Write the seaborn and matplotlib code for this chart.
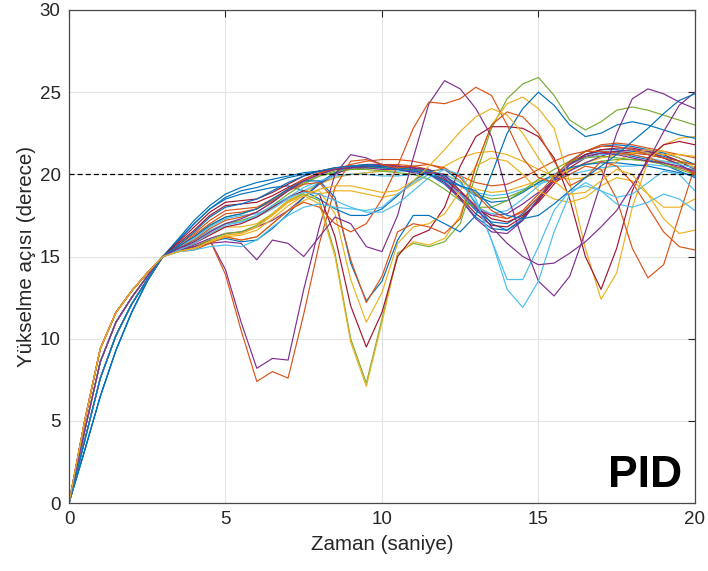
import numpy as np
import pandas as pd
import matplotlib
matplotlib.use("Agg")
import matplotlib.pyplot as plt
import seaborn as sns

# Sample times (s)
time_s = np.arange(0, 20.5, 0.5)

# Initial climb 0-3 s (shared by all runs, four speeds)
rise_fast = [0, 5.0, 9.4, 11.6, 12.9, 14.0, 15.0]
rise_b = [0, 4.4, 8.6, 11.0, 12.5, 13.8, 15.0]
rise_c = [0, 3.8, 7.6, 10.2, 12.1, 13.6, 15.0]
rise_slow = [0, 3.2, 6.5, 9.3, 11.6, 13.5, 15.0]

# Elevation angle (deg) for 3.5-20 s, one list per run
w01 = [16.1, 17.2, 18.1, 18.8, 19.2, 19.5, 19.7, 19.9, 20.1, 20.2,
       20.3, 20.4, 20.4, 20.4, 20.4, 20.3, 20.1, 19.6, 18.8, 17.8,
       17.1, 17.0, 17.6, 18.6, 19.7, 20.6, 21.2, 21.5, 21.5, 21.4,
       21.3, 21.1, 20.8, 20.3]
w02 = [16.0, 17.0, 17.9, 18.6, 19.0, 19.2, 19.5, 19.8, 20.0, 20.2,
       20.3, 20.4, 20.5, 20.5, 20.4, 20.3, 20.0, 19.4, 18.5, 17.4,
       16.7, 16.6, 17.3, 18.5, 19.8, 20.8, 21.4, 21.7, 21.8, 21.7,
       21.5, 21.3, 21.0, 20.6]
w03 = [15.9, 16.8, 17.7, 18.3, 18.4, 18.5, 18.9, 19.4, 19.9, 20.2,
       20.4, 20.5, 20.5, 20.5, 20.5, 20.4, 20.2, 19.6, 18.6, 17.6,
       16.9, 16.8, 17.4, 18.4, 19.6, 20.6, 21.2, 21.5, 21.6, 21.6,
       21.4, 21.2, 20.8, 20.3]
w04 = [15.8, 16.6, 17.5, 18.1, 18.2, 18.3, 18.7, 19.2, 19.7, 20.1,
       20.3, 20.4, 20.5, 20.5, 20.5, 20.4, 20.2, 19.7, 18.9, 18.0,
       17.3, 17.1, 17.5, 18.3, 19.4, 20.4, 21.0, 21.3, 21.4, 21.3,
       21.2, 21.0, 20.6, 20.0]
w05 = [15.7, 16.4, 17.2, 17.8, 17.9, 18.0, 18.5, 19.1, 19.7, 20.1,
       20.3, 20.5, 20.6, 20.6, 20.6, 20.5, 20.3, 19.8, 19.0, 18.1,
       17.5, 17.3, 17.7, 18.6, 19.7, 20.7, 21.4, 21.8, 21.9, 21.8,
       21.6, 21.4, 21.2, 21.0]
w06 = [15.6, 16.2, 16.9, 17.4, 17.6, 17.9, 18.4, 19.0, 19.5, 19.9,
       20.1, 20.3, 20.4, 20.4, 20.4, 20.3, 20.2, 19.8, 19.3, 18.8,
       18.5, 18.6, 19.0, 19.5, 19.9, 20.3, 20.6, 20.8, 20.9, 20.9,
       20.8, 20.8, 20.7, 20.6]
w07 = [15.5, 16.0, 16.6, 17.0, 17.1, 17.4, 17.9, 18.5, 19.0, 19.5,
       19.8, 20.0, 20.1, 20.2, 20.2, 20.2, 20.1, 19.8, 19.3, 18.9,
       18.7, 18.8, 19.1, 19.4, 19.7, 20.0, 20.2, 20.4, 20.5, 20.5,
       20.6, 20.5, 20.4, 20.3]
w08 = [15.4, 15.8, 16.4, 16.8, 16.8, 17.0, 17.6, 18.3, 18.9, 19.4,
       19.8, 20.0, 20.1, 20.2, 20.3, 20.3, 20.2, 20.0, 19.6, 19.1,
       18.9, 19.0, 19.3, 19.6, 19.9, 20.3, 20.7, 21.0, 21.2, 21.3,
       21.3, 21.2, 21.2, 21.1]
w09 = [15.4, 15.7, 16.1, 16.4, 16.5, 16.8, 17.2, 17.8, 18.6, 19.4,
       20.0, 20.4, 20.6, 20.6, 20.5, 20.4, 20.3, 19.8, 18.8, 17.9,
       17.5, 17.6, 18.2, 18.9, 19.6, 20.2, 20.7, 21.1, 21.4, 21.5,
       21.4, 21.0, 20.6, 20.1]
w10 = [15.3, 15.6, 15.9, 16.1, 15.9, 16.0, 16.7, 17.6, 18.6, 19.5,
       20.1, 20.5, 20.6, 20.5, 20.4, 20.3, 20.2, 19.9, 19.3, 18.7,
       18.3, 18.4, 18.9, 19.5, 20.0, 20.4, 20.6, 20.7, 20.7, 20.6,
       20.5, 20.3, 20.1, 19.9]
w11 = [15.5, 16.1, 16.8, 17.3, 17.5, 17.6, 18.0, 18.6, 19.2, 19.6,
       19.9, 20.0, 20.0, 19.9, 19.9, 20.0, 20.0, 19.6, 18.8, 18.0,
       17.6, 17.8, 18.5, 19.3, 20.0, 20.6, 21.0, 21.2, 21.3, 21.2,
       21.0, 20.8, 20.6, 20.4]
w12 = [15.3, 15.5, 15.9, 16.2, 16.0, 16.2, 17.0, 17.8, 18.4, 18.8,
       19.0, 19.0, 18.8, 18.6, 18.8, 19.4, 20.0, 20.5, 21.0, 21.3,
       21.4, 21.2, 20.8, 20.3, 19.9, 19.7, 19.8, 20.2, 20.8, 21.3,
       21.5, 21.4, 21.0, 20.4]
w13 = [15.4, 15.9, 16.5, 17.0, 17.2, 17.5, 18.1, 18.8, 19.4, 19.9,
       20.2, 20.3, 20.3, 20.2, 20.1, 20.0, 19.7, 19.1, 18.4, 18.0,
       18.0, 18.4, 19.0, 19.7, 20.3, 20.8, 21.0, 21.1, 21.0, 20.9,
       20.8, 20.6, 20.3, 20.0]
w14 = [15.6, 16.3, 17.0, 17.6, 17.7, 17.9, 18.4, 19.0, 19.6, 20.0,
       20.3, 20.6, 20.8, 20.9, 20.9, 20.8, 20.6, 20.3, 19.9, 19.5,
       19.3, 19.4, 19.8, 20.3, 20.8, 21.2, 21.4, 21.4, 21.3, 21.2,
       21.0, 20.7, 20.4, 20.1]
o01 = [15.4, 15.6, 16.0, 14.2, 11.0, 8.2, 8.8, 8.7, 13.0, 16.8,
       20.0, 21.2, 21.0, 20.6, 20.3, 20.1, 20.0, 19.5, 18.5, 17.3,
       16.5, 16.4, 17.2, 18.5, 19.7, 20.6, 21.1, 21.3, 21.2, 21.0,
       20.8, 20.7, 20.5, 20.2]
o02 = [15.4, 15.6, 16.0, 13.9, 10.5, 7.4, 8.0, 7.6, 11.5, 15.8,
       19.2, 20.8, 20.9, 20.6, 20.4, 20.5, 20.6, 20.4, 19.8, 18.8,
       17.8, 17.3, 17.8, 18.8, 19.9, 20.8, 21.4, 21.7, 21.7, 21.5,
       21.2, 21.0, 20.8, 20.6]
o03 = [15.4, 15.6, 16.0, 16.4, 16.5, 16.9, 17.6, 18.4, 18.8, 18.4,
       15.2, 10.0, 7.3, 11.2, 15.2, 15.8, 15.6, 15.9, 17.0, 20.0,
       22.8, 24.6, 25.5, 25.9, 24.8, 23.3, 22.7, 23.2, 23.9, 24.1,
       23.9, 23.6, 23.3, 23.0]
o04 = [15.3, 15.5, 15.9, 16.3, 16.4, 16.8, 17.5, 18.3, 18.7, 18.2,
       15.0, 9.8, 7.1, 11.0, 15.1, 15.9, 15.7, 16.1, 17.5, 20.5,
       23.0, 24.3, 24.7, 24.0, 22.8, 19.5, 15.5, 12.4, 14.0, 18.0,
       20.8, 21.8, 22.2, 22.3]
o05 = [15.5, 15.8, 16.3, 16.8, 17.0, 17.4, 18.0, 18.6, 19.0, 18.8,
       16.2, 12.0, 9.5, 11.6, 15.0, 16.2, 16.6, 18.0, 20.5, 22.3,
       22.9, 22.9, 22.8, 22.3, 21.0, 18.5, 15.0, 13.0, 15.5, 19.0,
       21.0, 21.8, 22.0, 21.8]
o06 = [15.3, 15.5, 15.9, 16.3, 16.4, 16.8, 17.6, 18.4, 18.9, 19.0,
       17.6, 13.6, 11.0, 12.8, 15.8, 16.8, 17.0, 17.6, 19.0, 20.5,
       21.0, 20.8, 20.0, 19.0, 18.5, 18.3, 18.6, 19.3, 19.8, 19.6,
       18.8, 18.0, 18.0, 18.5]
o07 = [15.6, 16.2, 16.9, 17.4, 17.6, 17.9, 18.5, 19.1, 19.6, 19.6,
       18.6, 14.6, 12.3, 13.5, 16.0, 17.5, 17.5, 17.0, 16.5, 17.5,
       20.0, 22.5, 24.0, 25.0, 24.2, 23.0, 22.3, 22.5, 23.0, 23.2,
       23.0, 22.7, 22.4, 22.2]
o08 = [15.5, 16.0, 16.7, 17.2, 17.4, 17.7, 18.3, 19.0, 19.4, 19.5,
       18.4, 14.8, 12.2, 13.8, 16.5, 17.0, 16.8, 16.4, 17.3, 20.5,
       23.0, 23.8, 23.5, 22.5, 20.8, 19.3, 19.8, 20.8, 20.5, 19.5,
       18.0, 16.5, 15.6, 15.4]
o09 = [15.4, 15.6, 15.8, 15.9, 15.8, 14.8, 16.0, 15.8, 15.0, 16.2,
       17.4, 17.0, 15.6, 15.3, 17.5, 21.0, 24.3, 25.7, 25.2, 24.0,
       22.3, 18.8, 16.0, 13.5, 12.6, 13.8, 16.5, 19.5, 22.5, 24.6,
       25.2, 24.9, 24.4, 24.0]
o10 = [15.3, 15.4, 15.8, 16.2, 16.0, 16.2, 17.0, 17.8, 18.3, 18.0,
       17.0, 16.5, 17.0, 18.5, 20.5, 22.8, 24.4, 24.3, 24.6, 25.3,
       24.8, 23.0, 21.0, 19.8, 19.5, 20.0, 20.5, 20.3, 18.5, 15.5,
       13.7, 14.5, 17.5, 20.5]
o11 = [15.3, 15.4, 15.6, 15.7, 15.6, 16.0, 16.8, 17.5, 18.0, 18.2,
       18.0, 17.9, 17.8, 18.0, 18.8, 19.5, 20.0, 20.0, 19.5, 18.3,
       16.0, 13.0, 11.9, 13.5, 16.5, 18.8, 19.5, 19.0, 18.2, 18.0,
       18.3, 18.8, 18.5, 17.8]
o12 = [15.4, 15.8, 16.4, 16.9, 17.1, 17.5, 18.1, 18.6, 18.9, 18.8,
       18.4, 18.0, 17.7, 17.7, 18.2, 19.0, 19.8, 20.3, 20.0, 18.5,
       16.0, 13.6, 13.6, 15.6, 17.8, 19.0, 19.3, 19.0, 18.6, 18.8,
       19.5, 20.2, 20.0, 19.0]
o13 = [15.5, 15.9, 16.5, 17.0, 17.3, 17.7, 18.3, 19.0, 19.6, 20.0,
       20.3, 20.4, 20.4, 20.3, 20.3, 20.2, 20.1, 20.0, 19.0, 18.0,
       16.8, 15.8, 15.0, 14.5, 14.6, 15.2, 15.9, 16.8, 17.8, 19.3,
       20.8, 22.6, 24.2, 25.0]
o14 = [15.7, 16.5, 17.4, 18.0, 18.2, 18.5, 19.0, 19.5, 19.9, 20.2,
       20.4, 20.5, 20.5, 20.4, 20.3, 20.2, 20.0, 19.6, 19.3, 19.0,
       18.0, 17.5, 17.3, 17.5, 18.2, 19.0, 19.8, 20.5, 21.2, 22.0,
       22.8, 23.7, 24.5, 24.9]
o15 = [16.0, 17.0, 17.9, 18.5, 18.8, 19.0, 19.2, 19.3, 19.0, 18.5,
       17.9, 17.5, 17.5, 17.9, 18.7, 19.6, 20.2, 20.3, 19.6, 18.2,
       17.0, 16.6, 17.2, 18.5, 19.8, 20.7, 21.2, 21.4, 21.3, 21.1,
       20.9, 20.6, 20.2, 19.8]
o16 = [15.3, 15.5, 15.9, 16.2, 16.3, 16.6, 17.3, 18.1, 18.7, 19.1,
       19.3, 19.3, 19.1, 18.9, 19.0, 19.6, 20.5, 21.5, 22.6, 23.5,
       24.0, 23.6, 22.5, 21.0, 19.6, 18.8, 18.9, 19.6, 20.3, 20.0,
       18.8, 17.3, 16.4, 16.6]

# MATLAB default line colours
BLUE, ORANGE, YELLOW, PURPLE = "#0072BD", "#D95319", "#EDB120", "#7E2F8E"
GREEN, CYAN, RED = "#77AC30", "#4DBEEE", "#A2142F"

runs = [
    ("w01", rise_slow, w01, BLUE), ("w02", rise_slow, w02, BLUE),
    ("o15", rise_slow, o15, BLUE), ("w03", rise_c, w03, RED),
    ("w04", rise_c, w04, RED), ("w05", rise_c, w05, ORANGE),
    ("w06", rise_b, w06, GREEN), ("w07", rise_b, w07, CYAN),
    ("w08", rise_fast, w08, YELLOW), ("w09", rise_fast, w09, PURPLE),
    ("w10", rise_fast, w10, BLUE), ("w11", rise_b, w11, CYAN),
    ("w12", rise_fast, w12, YELLOW), ("w13", rise_b, w13, GREEN),
    ("w14", rise_c, w14, ORANGE), ("o01", rise_fast, o01, PURPLE),
    ("o02", rise_fast, o02, ORANGE), ("o03", rise_b, o03, GREEN),
    ("o04", rise_fast, o04, YELLOW), ("o05", rise_b, o05, RED),
    ("o06", rise_fast, o06, YELLOW), ("o07", rise_c, o07, BLUE),
    ("o08", rise_b, o08, ORANGE), ("o09", rise_fast, o09, PURPLE),
    ("o10", rise_fast, o10, ORANGE), ("o11", rise_b, o11, CYAN),
    ("o12", rise_c, o12, CYAN), ("o13", rise_b, o13, PURPLE),
    ("o14", rise_c, o14, BLUE), ("o16", rise_fast, o16, YELLOW),
]

frames = []
for name, rise, tail, _ in runs:
    frames.append(pd.DataFrame({"t": time_s, "deg": list(rise) + list(tail), "run": name}))
df = pd.concat(frames, ignore_index=True)
palette = {name: col for name, _, _, col in runs}

reference_deg = 20.0

sns.set_style("white")
plt.rcParams["font.family"] = ["Liberation Sans", "DejaVu Sans"]
ink = "#262626"

fig = plt.figure(figsize=(7.08, 5.71), dpi=100)
ax = fig.add_axes([0.0975, 0.119, 0.884, 0.8635])

ax.grid(True, color="#e3e3e3", linewidth=0.8)
ax.set_axisbelow(True)

sns.lineplot(data=df, x="t", y="deg", hue="run", palette=palette,
             estimator=None, sort=False, legend=False, linewidth=0.85, ax=ax)
for ln in ax.get_lines():
    ln.set_solid_joinstyle("round")

ax.axhline(reference_deg, color="black", linestyle=(0, (4, 2.5)), linewidth=0.9)

ax.set_xlim(0, 20)
ax.set_ylim(0, 30)
ax.set_xticks([0, 5, 10, 15, 20])
ax.set_yticks([0, 5, 10, 15, 20, 25, 30])
ax.tick_params(direction="in", top=True, right=True, length=5, width=0.8,
               colors=ink, labelsize=13.5, pad=6)
for sp in ax.spines.values():
    sp.set_color("#4a4a4a")
    sp.set_linewidth(0.9)

ax.set_xlabel("Zaman (saniye)", fontsize=14.8, color=ink, labelpad=5)
ax.set_ylabel("Yükselme açısı (derece)", fontsize=14.8, color=ink, labelpad=3)

ax.text(0.979, 0.032, "PID", transform=ax.transAxes, ha="right", va="baseline",
        fontsize=32, fontweight="bold", color="black")

fig.savefig("out.png", dpi=100)
